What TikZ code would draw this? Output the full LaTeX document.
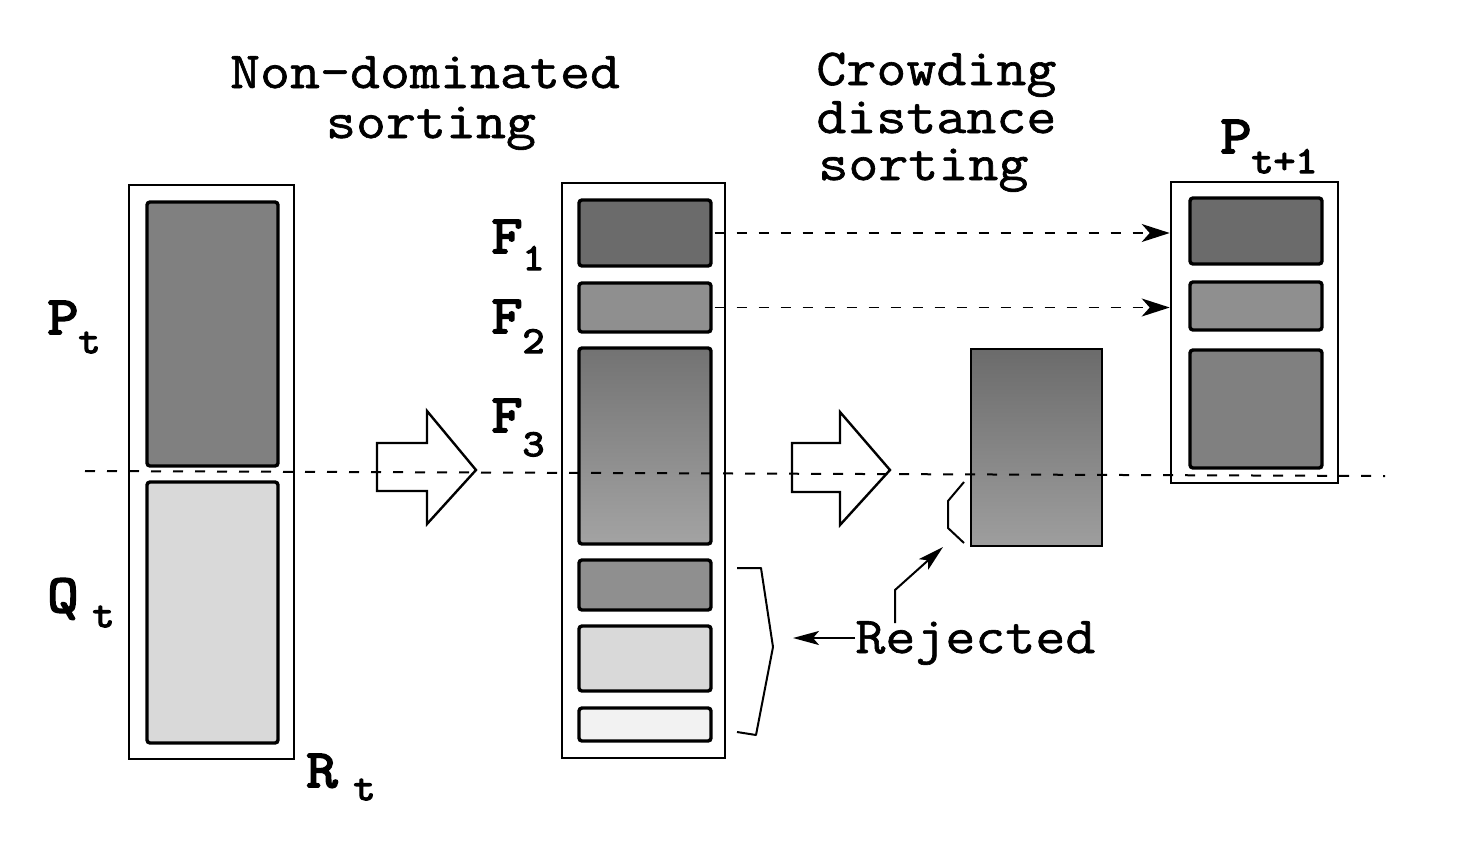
\documentclass[tikz,border=0pt]{standalone}
\usepackage{fontspec}
\newfontfamily\courr{Latin Modern Mono}[FakeStretch=1.12, FakeBold=1.2]
\newfontfamily\courb{Latin Modern Mono}[FakeStretch=1.12, FakeBold=3.5]
\usetikzlibrary{fit,arrows.meta}
\newcommand\labfont{\courb\fontsize{27}{27}\selectfont}
\newcommand\subfont{\courb\fontsize{19}{19}\selectfont}
\newcommand\ttlfont{\courr\fontsize{26}{26}\selectfont}
\tikzset{
  outerbox/.style={draw, line width=1.3pt, inner sep=0pt, fill=white},
  inbox/.style={draw, line width=1.7pt, rounded corners=1.5pt, inner sep=0pt},
  ttl/.style={inner sep=0pt, font=\ttlfont},
  lab/.style={inner sep=0pt, font=\labfont},
  blockarrow/.style={draw, line width=1.2pt, fill=white, line join=miter},
  midline/.style={line width=1pt, dash pattern=on 5pt off 6pt},
  dasharrow/.style={line width=0.9pt, dash pattern=on 5pt off 6pt, -{Stealth[length=14pt,width=9pt,inset=4pt]}},
  arr/.style={line width=1pt, -{Stealth[length=13pt,width=7pt,inset=3pt]}},
  brk/.style={line width=1pt, line join=round},
  darkA/.style={fill=black!58},
  darkB/.style={fill=black!50},
  darkC/.style={fill=black!44},
  lightA/.style={fill=black!15},
  lightB/.style={fill=black!5},
}
\begin{document}
\begin{tikzpicture}[x=0.5pt,y=-0.5pt]
\useasboundingbox (0,0) rectangle (1462,863);

% titles
\node[ttl, anchor=base] (nd1) at (425,88) {Non-dominated};
\node[ttl, anchor=base] (nd2) at (431,138) {sorting};
\node[ttl, anchor=base west] (cd1) at (816,85) {Crowding};
\node[ttl, anchor=base west] (cd2) at (816,133) {distance};
\node[ttl, anchor=base west] (cd3) at (818,180) {sorting};

% left box R_t
\node[outerbox, fit={(129,185) (294,759)}] (rt) {};
\node[inbox, darkB, fit={(147,202) (278,466)}] (pt) {};
\node[inbox, lightA, fit={(147,482) (278,743)}] (qt) {};

% middle box
\node[outerbox, fit={(562,183) (725,758)}] (mid) {};
\node[inbox, darkA, fit={(579,200) (711,266)}] (f1) {};
\node[inbox, darkC, fit={(579,283) (711,332)}] (f2) {};
\node[inbox, top color=black!55, bottom color=black!36, fit={(579,348) (711,544)}] (f3) {};
\node[inbox, darkC, fit={(579,560) (711,610)}] (f4) {};
\node[inbox, lightA, fit={(579,626) (711,691)}] (f5) {};
\node[inbox, lightB, fit={(579,708) (711,741)}] (f6) {};

% crowding distance box
\node[draw, line width=1.3pt, inner sep=0pt, top color=black!58, bottom color=black!38, fit={(971,349) (1102,546)}] (cr) {};

% right box P_{t+1}
\node[outerbox, fit={(1171,182) (1338,483)}] (rb) {};
\node[inbox, darkA, fit={(1190,198) (1322,264)}] (r1) {};
\node[inbox, darkC, fit={(1190,282) (1322,330)}] (r2) {};
\node[inbox, darkB, fit={(1190,350) (1322,468)}] (r3) {};

% block arrows
\draw[blockarrow] (377,443) -- (427,443) -- (427,411) -- (476,470) -- (427,524) -- (427,491) -- (377,491) -- cycle;
\draw[blockarrow] (792,443) -- (840,443) -- (840,412) -- (890,470) -- (840,525) -- (840,492) -- (792,492) -- cycle;

% dashed horizontal line
\coordinate (hl) at (85,471);
\coordinate (hr) at (1385,476);
\draw[midline] (hl) -- (hr);

% labels
\node[lab, anchor=base west] (lp) at (47,334) {P\raisebox{-9.5pt}{\subfont t}};
\node[lab, anchor=base west] (lq) at (47,612) {Q\hspace{7pt}\raisebox{-7.5pt}{\subfont t}};
\node[lab, anchor=base west] (lr) at (306,787) {R\hspace{8pt}\raisebox{-6.5pt}{\subfont t}};
\node[lab, anchor=base west] (lf1) at (491,253) {F\raisebox{-8.5pt}{\subfont 1}};
\node[lab, anchor=base west] (lf2) at (491,333) {F\raisebox{-10pt}{\subfont 2}};
\node[lab, anchor=base west] (lf3) at (491,432) {F\raisebox{-12pt}{\subfont 3}};
\node[lab, anchor=base west] (lpn) at (1220,153) {P\raisebox{-10pt}{\subfont t+1}};

% dashed connectors
\draw[dasharrow] ([xshift=1pt]f1.east) -- (f1.east -| rb.west);
\draw[dasharrow] ([xshift=1pt]f2.east) -- (f2.east -| rb.west);

% brackets
\draw[brk] (737,568) -- (761,568) -- (773,647) -- (756,735) -- (737,732);
\draw[brk] (964,482) -- (948,501) -- (948,528) -- (964,543);

% Rejected
\node[ttl, anchor=base west] (rej) at (855,653) {Rejected};
\coordinate (bk) at (793,638);
\coordinate (ru) at (895,623);
\coordinate (rc) at (943,547);
\draw[arr] (rej.west |- bk) -- (bk);
\draw[arr] (ru) -- (895,590) -- (rc);
\end{tikzpicture}
\end{document}
